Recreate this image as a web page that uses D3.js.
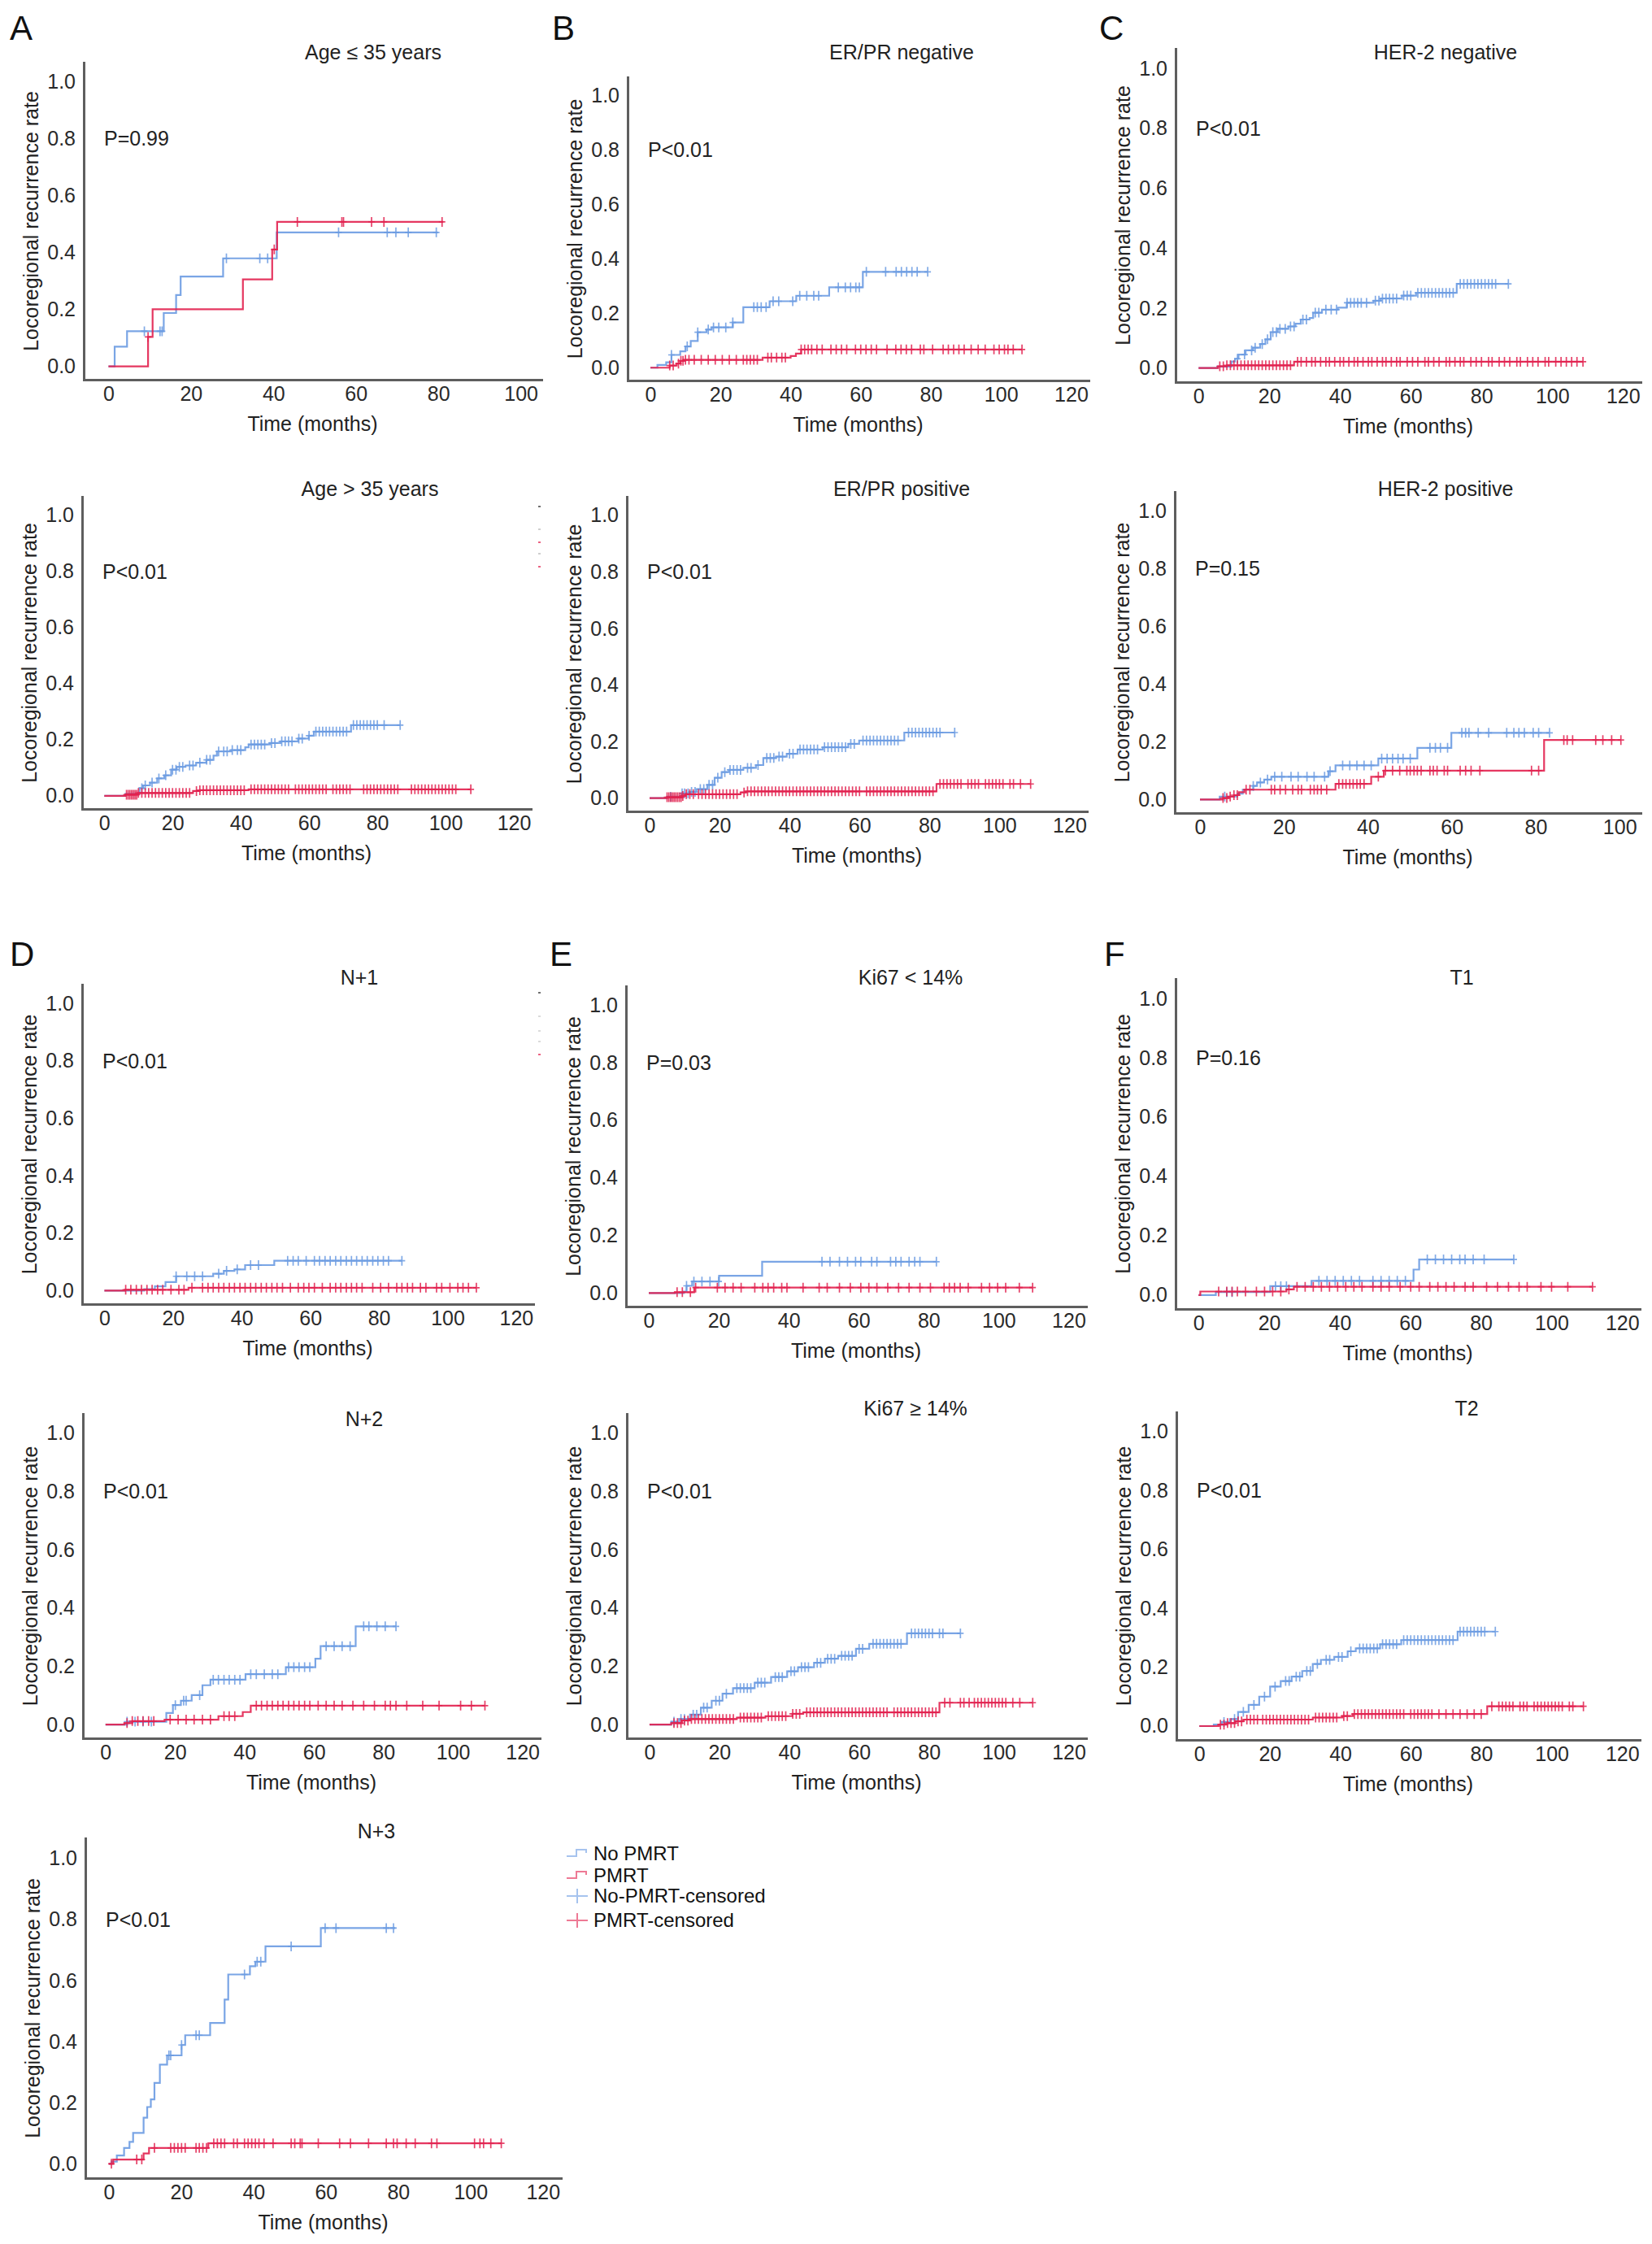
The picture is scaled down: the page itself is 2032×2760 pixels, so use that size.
<!DOCTYPE html>
<html lang="en">
<head>
<meta charset="UTF-8">
<title>Locoregional recurrence by subgroup</title>
<script src="https://d3js.org/d3.v7.min.js"></script>
<style>
  body { margin: 0; background: #fff; }
  svg { display: block; font-family: "Liberation Sans", Arial, sans-serif; }
  .axis path { stroke: #5e5e5e; stroke-width: 3; }
  .axis text { font-size: 25px; fill: #2a2a2a; font-family: "Liberation Sans", Arial, sans-serif; }
</style>
</head>
<body>
<svg id="chart" width="2032" height="2760"></svg>
<script>
// step curves are [month, cumulative rate]; last point = end of follow-up
// censor arrays are months of censored patients

// A - Age <= 35
const ageLe35_no = [[0,0],[1.5,0.069],[4.5,0.123],[13.4,0.187],[16.4,0.25],[17.5,0.315],[27.8,0.379],[40.8,0.47],[79.9,0.47]];
const ageLe35_noC = [8.7, 12.5, 13, 28.6, 36.7, 38.6, 55.8, 67.6, 69.7, 72.7, 79.5];
const ageLe35_pm = [[0,0],[9.6,0.103],[10.7,0.2],[32.6,0.305],[39.7,0.41],[40.9,0.507],[81.2,0.507]];
const ageLe35_pmC = [9.6, 40.2, 45.8, 56.6, 57, 63.8, 66.8, 80.9];

// A - Age > 35
const ageGt35_no = [[0,0],[6.2,0.007],[10.3,0.027],[11.4,0.037],[13.4,0.047],[15.5,0.062],[17.6,0.073],[19.6,0.093],[21.2,0.103],[23.8,0.108],[26.9,0.118],[29.9,0.128],[32,0.143],[33,0.158],[37.2,0.163],[41.3,0.173],[42.3,0.183],[48.5,0.188],[51.6,0.194],[56.8,0.204],[59.9,0.214],[61.4,0.229],[72.3,0.252],[86.7,0.252]];
const ageGt35_noC = [11, 12, 14, 16, 18, 20, 21, 22, 23, 25, 26, 28, 30, 31, 33.5, 35, 36, 37.5, 39, 40, 43, 44, 45, 46, 47, 49, 50, 52, 53, 54, 55, 57, 58, 60, 62, 63, 64, 65, 66, 67, 68, 69, 70, 71, 73, 74, 75, 76, 77, 78, 79, 80, 82, 86.7];
const ageGt35_pm = [[0,0],[6.2,0.004],[9.8,0.01],[26,0.017],[28,0.02],[42.3,0.023],[107.4,0.023]];
const ageGt35_pmC = [6.5, 7, 7.5, 8, 8.5, 9, 9.5, 10, 11, 12, 13, 14, 15, 16, 17, 18, 19, 20, 21, 22, 23, 24, 25, 27, 28, 29, 30, 31, 32, 33, 34, 35, 36, 37, 38, 39, 40, 41, 43, 44, 45, 46, 47, 48, 49, 50, 51, 52, 53, 54, 56, 57, 58, 59, 60, 61, 62, 63, 64, 65, 67, 68, 69, 70, 71, 72, 76, 77, 78, 79, 80, 81, 82, 83, 84, 85, 86, 90, 91, 92, 93, 94, 95, 96, 97, 98, 99, 100, 101, 102, 103, 107.4];

// B - ER/PR negative
const erprNeg_no = [[0,0],[2,0.01],[4.5,0.02],[6,0.047],[8.5,0.06],[10,0.078],[11.5,0.098],[13.5,0.13],[16,0.14],[17.5,0.148],[23.5,0.166],[26.5,0.222],[34,0.244],[41.6,0.264],[51,0.295],[60.6,0.352],[79.1,0.352]];
const erprNeg_noC = [6, 10.5, 13.5, 16.5, 18, 19.5, 21.5, 23.5, 29.5, 30.5, 31.6, 33, 35, 36.6, 40.6, 42.6, 44.6, 46.6, 48, 53.6, 55.6, 57.1, 58.6, 59.6, 61.6, 67.1, 70.1, 71.6, 73.1, 74.6, 76.1, 79.1];
const erprNeg_pm = [[0,0],[5.5,0.008],[7.5,0.015],[8.5,0.025],[9.5,0.029],[32,0.037],[40,0.043],[41.5,0.052],[43,0.067],[106,0.067]];
const erprNeg_pmC = [5.5, 6.5, 8, 8.7, 9.3, 10, 11, 12.5, 14.5, 16.5, 18.5, 20.5, 22.5, 24.5, 26.5, 27.5, 28.5, 29.5, 30.5, 33.5, 34.5, 36, 37.5, 38.5, 43, 44, 45, 46, 47.5, 49, 51.5, 53, 54.5, 56, 58.5, 60, 61.5, 63, 64.5, 67.5, 70, 71.5, 73, 74.5, 77, 78, 80.5, 83.5, 85, 86.5, 88, 89.5, 91.5, 93.5, 95.5, 98, 99.5, 101, 102, 103.5, 106];

// B - ER/PR positive
const erprPos_no = [[0,0],[5,0.005],[9.3,0.017],[11.5,0.022],[13.4,0.032],[16.5,0.047],[18.6,0.072],[20.6,0.092],[22.7,0.1],[26.8,0.107],[30.4,0.117],[32.5,0.142],[36.1,0.147],[39.2,0.157],[42.3,0.172],[49.5,0.18],[56.8,0.192],[59.9,0.204],[72.8,0.232],[87.2,0.232]];
const erprPos_noC = [6, 9.3, 10, 11, 12, 13, 14.5, 15.5, 17, 18, 19.5, 21.5, 23, 24, 25, 26, 28, 29, 31, 33.5, 34.5, 35.5, 37, 38, 40, 41, 43, 44, 45, 46, 47, 48, 50, 51, 52, 53, 54, 55, 56, 57.5, 58.5, 61, 62, 63, 64, 65, 66, 67, 68, 69, 70, 71, 74, 75, 76, 77, 78, 79, 80, 81, 82, 83, 87.2];
const erprPos_pm = [[0,0],[5,0.003],[9.3,0.008],[10.3,0.014],[26,0.02],[27.5,0.024],[82,0.05],[108.9,0.05]];
const erprPos_pmC = [5, 5.5, 6, 6.5, 7, 7.5, 8, 8.5, 9, 9.5, 10.5, 11.5, 12.5, 14, 15, 16, 17, 18, 19, 20, 21, 22, 23, 24, 25, 27, 28, 29, 30, 31, 32, 33, 34, 35, 36, 37, 38, 39, 40, 41, 42, 43, 44, 45, 46, 47, 48, 49, 50, 51, 52, 53, 54, 55, 56, 57, 58, 59, 60, 62, 63, 64, 65, 66, 67, 68, 69, 70, 71, 72, 73, 74, 75, 76, 77, 78, 79, 80, 81, 83, 84, 85, 86, 87, 88, 89, 91, 92, 93, 94, 96, 97, 98, 99, 100, 101, 103, 104, 106, 108.9];

// C - HER-2 negative
const her2Neg_no = [[0,0],[5.3,0.005],[9.3,0.022],[10.3,0.031],[11.3,0.045],[13.3,0.059],[15.4,0.068],[17.4,0.08],[18.9,0.096],[20.4,0.12],[22.4,0.131],[25.4,0.139],[27.4,0.148],[28.9,0.162],[31.4,0.167],[32.4,0.185],[34.9,0.195],[39.4,0.202],[41.9,0.218],[49.5,0.225],[51.5,0.232],[57.5,0.242],[61.5,0.251],[73,0.281],[87.6,0.281]];
const her2Neg_noC = [11, 13, 15, 16, 18, 19.5, 21, 22, 23, 24.5, 26, 27, 29.5, 30.5, 33, 34, 36, 37.5, 39, 42, 43, 44, 45, 46, 47.5, 50, 51, 52, 53, 54, 55, 56, 58, 59, 60, 62, 63, 64, 65, 66, 67, 68, 69, 70, 71, 72, 74, 75, 76, 77, 78, 79, 80, 81, 82, 83, 84, 87.6];
const her2Neg_pm = [[0,0],[5.5,0.006],[8,0.009],[27,0.021],[108.7,0.021]];
const her2Neg_pmC = [6, 7, 8, 9, 10, 11, 12, 13, 14, 15, 16, 17, 18, 19, 20, 21, 22, 23, 24, 25, 26, 28, 29, 30.5, 32, 33, 34.5, 36, 37, 38.5, 40, 41, 42.5, 44, 45, 46.5, 48, 49, 50.5, 52, 53, 54.5, 56, 57, 59, 60.5, 62, 64, 65, 66.5, 68, 70, 71, 72.5, 74, 75, 77, 78.5, 80, 82, 83, 85, 86.5, 88, 90, 91, 93, 94.5, 96, 98, 99, 101, 102.5, 104, 105.5, 107, 108.7];

// C - HER-2 positive
const her2Pos_no = [[0,0],[4.7,0.01],[8.9,0.02],[10.2,0.034],[12.7,0.047],[13.6,0.059],[15.3,0.069],[17,0.079],[30.6,0.098],[32.3,0.118],[42.5,0.142],[51.8,0.179],[59.9,0.231],[83.3,0.231]];
const her2Pos_noC = [5.9, 12.7, 14.4, 16.1, 17.8, 19.5, 21.7, 23.4, 25.5, 27.2, 29.7, 31, 34, 35.7, 37.4, 39.1, 40.8, 43.3, 44.6, 45.9, 47.2, 48.4, 50.1, 54.8, 56.1, 57.3, 59, 62.4, 63.3, 64.1, 66.3, 68.8, 73.1, 74.8, 76, 77.3, 79.4, 80.7, 83.3];
const her2Pos_pm = [[0,0],[5.5,0.005],[6.8,0.01],[8.1,0.015],[9.3,0.025],[10.6,0.034],[32.3,0.054],[40.8,0.079],[43.8,0.1],[82,0.206],[100.3,0.206]];
const her2Pos_pmC = [5.5, 6.4, 7.2, 8.1, 8.9, 11, 11.9, 17, 17.8, 19.1, 20.4, 22.1, 23.4, 24.2, 26.3, 27.2, 28, 28.9, 30.2, 33.1, 34, 34.8, 35.7, 36.5, 37.4, 38.2, 39.1, 42.5, 44.2, 45.9, 47.6, 49.3, 50.1, 51, 51.8, 52.7, 54.8, 55.6, 56.5, 58.2, 59, 62, 63.3, 64.6, 66.7, 79, 80.7, 86.7, 87.5, 88.8, 94.3, 96, 98.1, 100.3];

// D - N+1
const n1_no = [[0,0],[11.6,0.005],[14.7,0.015],[17.8,0.03],[20.9,0.05],[31.7,0.059],[34.8,0.069],[37.9,0.074],[41,0.089],[49.5,0.104],[86.7,0.104]];
const n1_noC = [20.9, 24, 26.3, 28.6, 33.3, 35.6, 38.7, 42.6, 44.9, 53.4, 55, 56.5, 58.8, 61.2, 62.7, 64.3, 65.8, 67.4, 68.9, 70.5, 72, 73.5, 75.1, 76.6, 78.2, 79.7, 81.3, 82.8, 86.7];
const n1_pm = [[0,0],[6,0.003],[24.5,0.01],[108.4,0.01]];
const n1_pmC = [6.2, 7.7, 9.3, 10.8, 12.4, 13.9, 15.5, 17, 19.4, 21.7, 23.2, 25.5, 28.6, 30.2, 31.7, 33.3, 34.8, 36.4, 37.9, 39.5, 41, 42.6, 44.1, 45.7, 47.2, 48.8, 50.3, 51.9, 54.2, 56.5, 58.1, 59.6, 61.2, 63.5, 65.8, 67.4, 68.9, 70.5, 72, 73.5, 75.1, 78.2, 80.5, 82.8, 85.2, 86.7, 88.3, 89.8, 92.1, 93.7, 96.8, 98.3, 100.7, 103, 104.5, 106.1, 108.4];

// D - N+2
const n2_no = [[0,0],[6.2,0.01],[17.5,0.04],[19.4,0.067],[21.7,0.082],[24.8,0.101],[27.9,0.135],[30.2,0.154],[40.3,0.173],[51.9,0.197],[60.4,0.226],[61.9,0.269],[72,0.337],[83.6,0.337]];
const n2_noC = [6.2, 8.5, 10.8, 13.2, 20.1, 22.5, 23.2, 27.1, 31, 32.5, 34.1, 35.6, 37.2, 38.7, 41.8, 43.4, 45.7, 48, 49.6, 52.7, 54.2, 55.7, 57.3, 58.8, 63.5, 65.8, 68.1, 70.4, 74.3, 75.8, 78.1, 80.5, 83.6];
const n2_pm = [[0,0],[5.4,0.005],[7.7,0.012],[17,0.017],[32.5,0.029],[39.5,0.043],[41.8,0.065],[109.2,0.065]];
const n2_pmC = [6.2, 7.7, 9.3, 10.8, 12.4, 13.9, 18.6, 20.9, 23.2, 25.5, 27.9, 30.2, 34.1, 35.6, 37.2, 43.4, 44.9, 46.5, 48, 49.6, 51.1, 52.7, 54.2, 55.7, 57.3, 58.8, 61.2, 63.5, 65.8, 68.1, 71.2, 74.3, 77.4, 80.5, 82, 83.6, 86.7, 91.3, 96, 102.2, 105.3, 109.2];

// D - N+3
const n3_no = [[0,0],[0.7,0.007],[2.2,0.027],[4.2,0.052],[5.7,0.072],[6.7,0.101],[9.6,0.151],[10.6,0.186],[11.6,0.211],[12.6,0.265],[14.1,0.325],[16.1,0.355],[20.1,0.389],[21.1,0.421],[28,0.461],[32,0.538],[33,0.62],[39,0.647],[40.5,0.662],[43.3,0.712],[58.6,0.772],[79.2,0.772]];
const n3_noC = [16.6, 17.1, 20.1, 24.1, 25, 37.5, 41, 42, 50.4, 59.8, 62.8, 76.7, 78.7];
const n3_pm = [[0,0],[1.2,0.014],[9.6,0.034],[11.1,0.052],[27.5,0.067],[108.5,0.067]];
const n3_pmC = [0.7, 7.7, 9.1, 12.6, 17.1, 18.1, 19.1, 20.1, 21.1, 24.1, 25, 26, 27, 29, 30, 31, 32, 34.5, 35.5, 37.5, 38.5, 39.5, 40.5, 41.5, 42.9, 45.4, 50.4, 51.4, 52.9, 53.4, 57.9, 63.8, 66.8, 71.8, 76.7, 78.7, 79.7, 82.2, 84.7, 89.2, 90.7, 101.1, 102.6, 103.6, 105.6, 108.5];

// E - Ki67 < 14%
const ki67Lo_no = [[0,0],[10,0.005],[10.8,0.025],[12.4,0.04],[20.1,0.06],[32.4,0.109],[82.2,0.109]];
const ki67Lo_noC = [10.8, 12.9, 15.2, 17.5, 20, 49.5, 51.8, 54.5, 56.8, 59.1, 60.6, 63.7, 65.2, 69.1, 70.6, 72.1, 74.4, 76, 77.5, 82.2];
const ki67Lo_pm = [[0,0],[7.5,0.003],[13,0.019],[109.7,0.019]];
const ki67Lo_pmC = [8.1, 9.6, 11.9, 13.4, 19.6, 21.8, 24.1, 26.4, 30.3, 32.6, 34.1, 35.7, 38, 39.5, 44.1, 48.7, 51, 54.5, 57.6, 60.6, 62.9, 65.2, 68.3, 71.4, 74.4, 77.5, 80.5, 84.4, 85.9, 87.4, 89, 91.3, 95.1, 97.4, 99.7, 102, 105.9, 109.7];

// E - Ki67 >= 14%
const ki67Hi_no = [[0,0],[6.2,0.01],[8.5,0.019],[11.6,0.034],[14.7,0.058],[17.8,0.082],[20.9,0.106],[23.9,0.125],[30.1,0.144],[34.8,0.163],[39.4,0.183],[42.5,0.197],[47.1,0.212],[50.2,0.226],[54,0.236],[59.1,0.26],[62.9,0.277],[73.7,0.313],[89,0.313]];
const ki67Hi_noC = [7, 9, 10, 12.5, 13.5, 15.5, 16.5, 19, 20, 22, 25, 26, 27, 28, 29, 31, 32, 33, 36, 37, 38, 40.5, 41.5, 43.5, 44.5, 45.5, 48, 49, 51, 52, 53, 55, 56, 57, 58, 60, 61, 64, 65, 66, 67, 68, 69, 70, 71, 72, 75, 76, 77, 78, 79, 80, 81, 83, 84, 89];
const ki67Hi_pm = [[0,0],[6.2,0.005],[9.3,0.014],[11.6,0.019],[25,0.024],[33.2,0.029],[40.9,0.037],[44,0.042],[83,0.075],[109.7,0.075]];
const ki67Hi_pmC = [7, 8, 9, 10, 11, 12, 13, 14, 15, 16, 17, 18, 19, 20, 21, 22, 23, 24, 26, 27, 28, 29, 30, 31, 32, 34, 35, 36, 37, 38, 39, 41, 42, 43, 45, 46, 47, 48, 49, 50, 51, 52, 53, 54, 55, 56, 57, 58, 59, 60, 61, 62, 63, 64, 65, 66, 67, 68, 70, 71, 72, 73, 74, 75, 76, 77, 78, 79, 80, 81, 82, 84.5, 86, 89, 90, 91.5, 93, 94, 95, 96, 97, 98, 99, 100, 101, 102, 104, 106, 109.7];

// F - T1
const t1_no = [[0,0],[4.9,0.01],[20.3,0.03],[32,0.048],[60.9,0.086],[62.5,0.12],[89.3,0.12]];
const t1_noC = [8, 9.5, 21.8, 23.3, 24.9, 34.1, 36.4, 38.7, 41, 43.3, 45.6, 49.4, 51.7, 54, 56.3, 58.6, 64.8, 67.1, 69.4, 71.7, 74, 75.5, 77.8, 80.9, 89.3];
const t1_pm = [[0,0],[0.5,0.012],[24.9,0.019],[27,0.028],[111.6,0.028]];
const t1_pmC = [5.7, 8, 9.5, 11, 13.3, 16.4, 18.7, 21, 23.3, 25.6, 27.9, 30.2, 32.5, 34.8, 37.1, 39.4, 41.7, 44, 46.3, 49.4, 51.7, 54, 57.1, 60.1, 62.5, 65.5, 67.8, 70.1, 72.4, 75.5, 77.8, 81.6, 84.7, 87.8, 90.8, 93.1, 97, 100, 104.6, 111.6];

// F - T2
const t2_no = [[0,0],[4.1,0.005],[6.4,0.014],[8.7,0.024],[11,0.048],[14,0.072],[17,0.1],[20.1,0.134],[23.1,0.153],[26.2,0.168],[29.2,0.187],[32.2,0.211],[34.5,0.225],[38.3,0.235],[42.1,0.254],[44.4,0.264],[51.3,0.278],[57.3,0.292],[73.3,0.321],[84,0.321]];
const t2_noC = [7, 10, 12.5, 15.5, 18.5, 21.5, 24.5, 25.5, 27.5, 28.5, 30.5, 31.5, 33.5, 36, 37, 39.5, 40.5, 43, 45.5, 46.5, 47.5, 48.5, 49.5, 50.5, 52, 53, 54, 55, 56, 58, 59, 60, 61, 62, 63, 64, 65, 66, 67, 68, 69, 70, 71, 72, 74, 75, 76, 77, 78, 79, 80, 81, 84];
const t2_pm = [[0,0],[5.6,0.005],[7.9,0.01],[10.2,0.016],[12.5,0.022],[32.2,0.029],[40.6,0.034],[43.6,0.041],[81.7,0.067],[109,0.067]];
const t2_pmC = [6, 7, 8, 9, 10, 11, 12, 13.5, 14.5, 15.5, 16.5, 18, 19, 20, 21, 22, 23, 24, 25, 26, 27, 28, 29, 30, 31, 33, 34, 35, 36, 37, 38, 39, 41, 42, 44, 45, 46, 47, 48, 49, 50, 51, 52, 53, 54, 55, 56, 57, 58, 60, 61, 62, 63, 64, 65, 66, 68, 70, 72, 74, 76, 78, 80, 83, 85, 86, 87, 88, 89, 91, 92, 93, 95, 96, 97, 98, 99, 100, 101, 102, 103, 105, 106, 109];

const yTicks = [0, 0.2, 0.4, 0.6, 0.8, 1.0];
const legendItems = ["No PMRT", "PMRT", "No-PMRT-censored", "PMRT-censored"];

const BLUE = "#6b9be2", RED = "#e2214f";

// box = [left, right, top, bottom] of the axis lines; tx/ty = title centre
const panels = [
  { title: "Age \u2264 35 years", p: "P=0.99", no: ageLe35_no, noC: ageLe35_noC, pm: ageLe35_pm, pmC: ageLe35_pmC, box: [103, 666, 77, 467], xMax: 100, tx: 459, ty: 64 },
  { title: "ER/PR negative", p: "P<0.01", no: erprNeg_no, noC: erprNeg_noC, pm: erprNeg_pm, pmC: erprNeg_pmC, box: [772, 1339, 95, 468], xMax: 120, tx: 1109, ty: 64 },
  { title: "HER-2 negative", p: "P<0.01", no: her2Neg_no, noC: her2Neg_noC, pm: her2Neg_pm, pmC: her2Neg_pmC, box: [1446, 2018, 60, 470], xMax: 120, tx: 1778, ty: 64 },
  { title: "Age > 35 years", p: "P<0.01", no: ageGt35_no, noC: ageGt35_noC, pm: ageGt35_pm, pmC: ageGt35_pmC, box: [101, 653, 611, 995], xMax: 120, tx: 455, ty: 601 },
  { title: "ER/PR positive", p: "P<0.01", no: erprPos_no, noC: erprPos_noC, pm: erprPos_pm, pmC: erprPos_pmC, box: [771, 1337, 611, 998], xMax: 120, tx: 1109, ty: 601 },
  { title: "HER-2 positive", p: "P=0.15", no: her2Pos_no, noC: her2Pos_noC, pm: her2Pos_pm, pmC: her2Pos_pmC, box: [1445, 2018, 605, 1000], xMax: 100, tx: 1778, ty: 601 },
  { title: "N+1", p: "P<0.01", no: n1_no, noC: n1_noC, pm: n1_pm, pmC: n1_pmC, box: [101, 656, 1211, 1604], xMax: 120, tx: 442, ty: 1202 },
  { title: "Ki67 < 14%", p: "P=0.03", no: ki67Lo_no, noC: ki67Lo_noC, pm: ki67Lo_pm, pmC: ki67Lo_pmC, box: [770, 1336, 1213, 1607], xMax: 120, tx: 1120, ty: 1202 },
  { title: "T1", p: "P=0.16", no: t1_no, noC: t1_noC, pm: t1_pm, pmC: t1_pmC, box: [1446, 2017, 1204, 1610], xMax: 120, tx: 1798, ty: 1202 },
  { title: "N+2", p: "P<0.01", no: n2_no, noC: n2_noC, pm: n2_pm, pmC: n2_pmC, box: [102, 664, 1739, 2138], xMax: 120, tx: 448, ty: 1745 },
  { title: "Ki67 \u2265 14%", p: "P<0.01", no: ki67Hi_no, noC: ki67Hi_noC, pm: ki67Hi_pm, pmC: ki67Hi_pmC, box: [771, 1336, 1739, 2138], xMax: 120, tx: 1126, ty: 1732 },
  { title: "T2", p: "P<0.01", no: t2_no, noC: t2_noC, pm: t2_pm, pmC: t2_pmC, box: [1447, 2017, 1737, 2140], xMax: 120, tx: 1804, ty: 1732 },
  { title: "N+3", p: "P<0.01", no: n3_no, noC: n3_noC, pm: n3_pm, pmC: n3_pmC, box: [105, 690, 2261, 2679], xMax: 120, tx: 463, ty: 2252 }
];

const letters = [["A", 12, 49], ["B", 679, 49], ["C", 1352, 49], ["D", 12, 1188], ["E", 676, 1188], ["F", 1358, 1188]];

// clipped legend fragments visible at the right edge of two panels
const fragments = [[663, 623, "#333"], [663, 651, "#bbb"], [663, 667, RED], [663, 681, "#bbb"], [663, 697, RED],
                   [663, 1221, "#333"], [663, 1250, "#ccc"], [663, 1268, "#ccc"], [663, 1281, "#ccc"], [663, 1297, RED]];

const svg = d3.select("#chart");
svg.append("rect").attr("width", 2032).attr("height", 2760).attr("fill", "#fff");

letters.forEach(([t, x, y]) => {
  svg.append("text").attr("x", x).attr("y", y).attr("font-size", 42).attr("fill", "#111").text(t);
});

fragments.forEach(([fx, fy, c]) => {
  svg.append("line").attr("x1", fx - 1).attr("x2", fx + 2).attr("y1", fy).attr("y2", fy)
    .attr("stroke", c).attr("stroke-width", 2).attr("stroke-opacity", 0.7);
});

function valueAt(steps, t) {
  const i = d3.bisector(d => d[0]).right(steps, t) - 1;
  return steps[Math.max(0, i)][1];
}

panels.forEach(p => {
  const [left, right, top, bottom] = p.box;
  const xDom = p.xMax === 100 ? [-6, 105] : [-6.5, 125];
  const x = d3.scaleLinear().domain(xDom).range([left, right]);
  const y = d3.scaleLinear().domain([-0.047, 1.066]).range([bottom, top]);
  const g = svg.append("g");

  g.append("g").attr("class", "axis")
    .attr("transform", `translate(0,${bottom})`)
    .call(d3.axisBottom(x).tickValues(d3.range(0, p.xMax + 1, 20)).tickSize(0).tickPadding(8))
    .call(a => a.select(".domain").attr("stroke-linecap", "square"));

  g.append("g").attr("class", "axis")
    .attr("transform", `translate(${left},0)`)
    .call(d3.axisLeft(y).tickValues(yTicks).tickFormat(d3.format(".1f")).tickSize(0).tickPadding(10))
    .call(a => a.select(".domain").attr("stroke-linecap", "square"));

  g.append("text").attr("x", (left + right) / 2).attr("y", bottom + 63)
    .attr("text-anchor", "middle").attr("font-size", 25).attr("fill", "#222").text("Time (months)");

  g.append("text").attr("transform", `translate(${left - 56},${(top + bottom) / 2}) rotate(-90)`)
    .attr("text-anchor", "middle").attr("font-size", 25).attr("fill", "#222").text("Locoregional recurrence rate");

  g.append("text").attr("x", p.tx).attr("y", p.ty + 9)
    .attr("text-anchor", "middle").attr("font-size", 25).attr("fill", "#222").text(p.title);

  g.append("text").attr("x", left + 25).attr("y", y(0.8) + 9)
    .attr("font-size", 25).attr("fill", "#222").text(p.p);

  const line = d3.line().x(d => x(d[0])).y(d => y(d[1])).curve(d3.curveStepAfter);

  [[p.no, p.noC, BLUE], [p.pm, p.pmC, RED]].forEach(([steps, cens, col]) => {
    g.append("path").attr("d", line(steps)).attr("fill", "none")
      .attr("stroke", col).attr("stroke-width", 2.2).attr("stroke-opacity", 0.9);
    g.append("g").selectAll("path").data(cens).join("path")
      .attr("d", t => {
        const cx = x(t), cy = y(valueAt(steps, t));
        return `M${cx},${cy - 6}V${cy + 6}M${cx - 4},${cy}H${cx + 4}`;
      })
      .attr("stroke", col).attr("stroke-width", 1.7).attr("stroke-opacity", 0.85).attr("fill", "none");
  });
});

// legend
const lg = svg.append("g");
const legendY = [2280, 2307, 2332, 2362];
const legendCol = [BLUE, RED, BLUE, RED];
legendItems.forEach((label, i) => {
  const cy = legendY[i];
  const d = i < 2
    ? `M697,${cy + 3}H709V${cy - 5}H721V${cy - 1}`
    : `M697,${cy}H723M710,${cy - 9}V${cy + 9}`;
  lg.append("path").attr("d", d).attr("fill", "none")
    .attr("stroke", legendCol[i]).attr("stroke-width", 2).attr("stroke-opacity", 0.6);
  lg.append("text").attr("x", 730).attr("y", cy + 8)
    .attr("font-size", 24).attr("fill", "#111").text(label);
});
</script>
</body>
</html>
